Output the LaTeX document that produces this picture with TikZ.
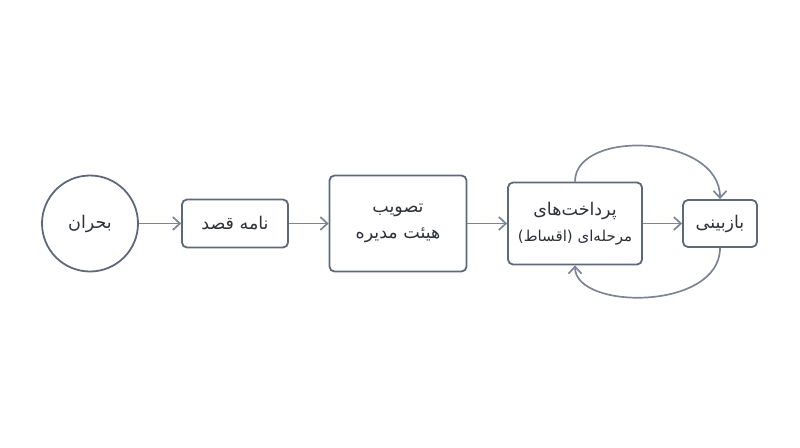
\documentclass[tikz,border=0pt]{standalone}
\usepackage{fontspec}
\usetikzlibrary{arrows.meta}
\TeXXeTstate=1
\newfontfamily\arabicfont[Script=Arabic]{DejaVu Sans}
\definecolor{edgegray}{HTML}{5E687A}
\definecolor{flowgray}{HTML}{7D8594}
\definecolor{inkgray}{HTML}{2E3138}

\begin{document}
\begin{tikzpicture}[x=1pt,y=-1pt,
    every node/.style={inner sep=0pt,text=inkgray,font=\arabicfont\fontsize{17.5}{26}\selectfont},
    stage/.style={draw=edgegray,line width=1.8pt,rounded corners=5pt,align=center},
    flow/.style={draw=flowgray,line width=1.7pt,-{Straight Barb[length=7pt,width=13pt,line width=1.7pt]}}]
      \useasboundingbox (0,0) rectangle (800,447);
      \node [circle,draw=edgegray,line width=1.8pt,minimum size=96pt] (crisis) at (90,223.5) {\beginR بحران\endR};
      \node [stage,minimum width=106pt,minimum height=48pt] (letter) at (235,223.5) {\beginR نامه قصد\endR};
      \node [stage,minimum width=137pt,minimum height=96pt] (board) at (398,223.5) {\beginR تصویب\endR\\\beginR هیئت مدیره\endR};
      \node [stage,minimum width=134pt,minimum height=82pt] (pay) at (575,223.5) {\beginR پرداخت‌های\endR\\{\fontsize{15}{24}\selectfont\beginR مرحله‌ای (اقساط)\endR}};
      \node [stage,minimum width=74pt,minimum height=47pt] (review) at (720,223.5) {\beginR بازبینی\endR};
      \draw [flow] (crisis) -- (letter);
      \draw [flow] (letter) -- (board);
      \draw [flow] (board) -- (pay);
      \draw [flow] (pay) -- (review);
      \draw [flow] (pay.north) .. controls +(0,-53) and +(0,-65) .. (review.north);
      \draw [flow] (review.south) .. controls +(0,63) and +(0,45) .. (pay.south);
    \end{tikzpicture}
\end{document}
